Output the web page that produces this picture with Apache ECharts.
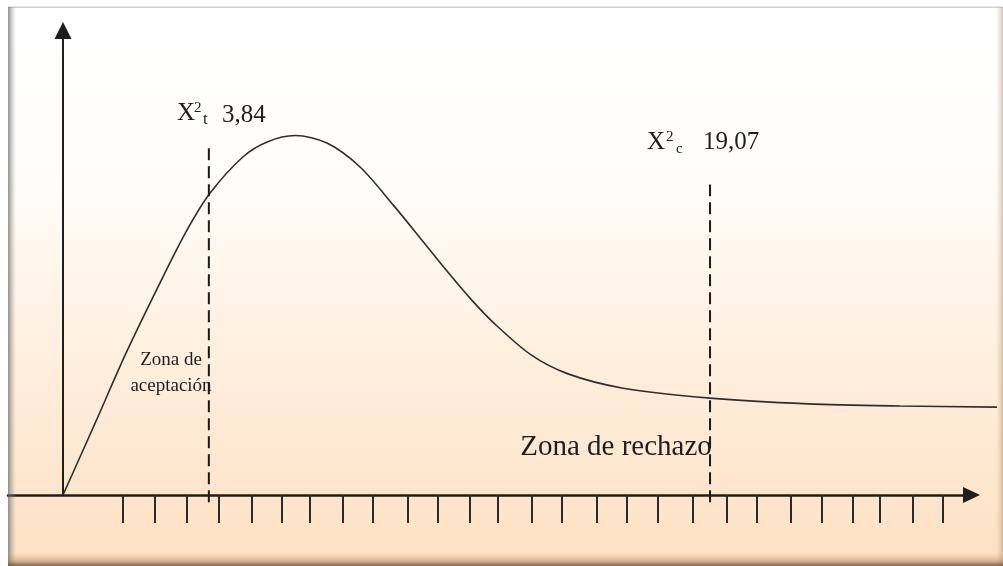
<!DOCTYPE html>
<html><head><meta charset="utf-8">
<script src="https://cdn.jsdelivr.net/npm/echarts@6/dist/echarts.min.js"></script>
<style>html,body{margin:0;padding:0;background:#fff}#c{width:1003px;height:566px}</style>
</head><body><div id="c"></div>
<script>
// ---- data (x in tick units, y in arbitrary density units) ----
const curveX = [0, 1.02, 2.0, 3.17, 3.94, 4.67, 5.71, 6.48, 7.37, 8.38, 9.43, 10.48, 11.37, 12.13, 12.92, 13.68, 14.86, 16.03, 17.78, 20.54, 23.65, 26.57, 29.65];
const curveY = [0, 2.01, 3.97, 6.10, 7.42, 8.45, 9.46, 9.88, 10.06, 9.85, 9.18, 8.12, 7.16, 6.33, 5.51, 4.81, 3.92, 3.39, 2.99, 2.71, 2.55, 2.49, 2.46];
const tickPositions = [1.90, 2.92, 3.94, 4.95, 6.00, 6.95, 7.84, 8.89, 9.84, 10.95, 11.90, 12.92, 13.81, 14.89, 15.84, 16.95, 17.90, 18.89, 20.00, 21.08, 22.03, 23.11, 24.10, 25.08, 25.94, 26.98, 27.94];
const criticalX = [4.63, 20.54];
const criticalTop = [9.87, 8.69];
const criticalBottom = -0.2;
const criticalValueLabels = ['3,84', '19,07'];
const criticalSubscripts = ['t', 'c'];
const zoneLabels = ['Zona de', 'aceptación', 'Zona de rechazo'];

const chart = echarts.init(document.getElementById('c'), null, {renderer: 'canvas'});
const serif = '"Liberation Serif", "DejaVu Serif", serif';
const ink = '#1e1e1e';
function txt(x, y, text, size, align) {
  return {type: 'text', z: 50, style: {x: x, y: y, text: text, font: size + 'px ' + serif, fill: ink, textAlign: align || 'left', textVerticalAlign: 'middle'}};
}
const LG = echarts.graphic.LinearGradient;

const series = [{
  type: 'line',
  xAxisIndex: 1, yAxisIndex: 1,
  data: curveX.map((x, i) => [x, curveY[i]]),
  smooth: 0.3,
  showSymbol: false,
  clip: false,
  lineStyle: {color: '#2e2e2e', width: 1.6},
  z: 5,
  silent: true
}];
criticalX.forEach((x, i) => {
  series.push({
    type: 'line',
    data: [[x, criticalBottom], [x, criticalTop[i]]],
    showSymbol: false,
    clip: false,
    lineStyle: {color: '#1a1a1a', width: 2, type: [12, 6]},
    z: 6,
    silent: true
  });
});

const hiddenAxis = {show: false, axisLine: {show: false}, axisTick: {show: false}, axisLabel: {show: false}, splitLine: {show: false}};

chart.setOption({
  animation: false,
  backgroundColor: '#ffffff',
  grid: [
    {left: 8, right: 31.5, top: 30.5, bottom: 71, containLabel: false},
    {left: 8, right: 6, top: 30.5, bottom: 71, containLabel: false}
  ],
  xAxis: [{
    type: 'value', min: -1.746, max: 28.84, gridIndex: 0,
    axisLine: {show: true, onZero: true, symbol: ['none', 'triangle'], symbolSize: [16, 17], lineStyle: {color: '#1e1e1e', width: 2.5}},
    axisTick: {show: true, customValues: tickPositions, length: 28, lineStyle: {color: '#2a2a2a', width: 2}},
    axisLabel: {show: false},
    splitLine: {show: false}
  }, Object.assign({type: 'value', min: -1.746, max: 29.65, gridIndex: 1}, hiddenAxis)],
  yAxis: [{
    type: 'value', min: 0, max: 13, gridIndex: 0,
    axisLine: {show: true, onZero: true, symbol: ['none', 'triangle'], symbolSize: [17, 17], lineStyle: {color: '#1e1e1e', width: 2}},
    axisTick: {show: false},
    axisLabel: {show: false},
    splitLine: {show: false}
  }, Object.assign({type: 'value', min: 0, max: 13, gridIndex: 1}, hiddenAxis)],
  graphic: [
    {type: 'rect', z: -100, silent: true, shape: {x: 8, y: 7, width: 995, height: 559},
      style: {fill: new LG(0, 0, 0, 1, [
        {offset: 0, color: '#ffffff'}, {offset: 0.28, color: '#fffefc'},
        {offset: 0.6, color: '#fff0e0'}, {offset: 1, color: '#fde0c2'}])}},
    {type: 'rect', z: 100, silent: true, shape: {x: 8, y: 6.5, width: 995, height: 1.5}, style: {fill: '#d0d0d0'}},
    {type: 'rect', z: 100, silent: true, shape: {x: 8, y: 7, width: 8, height: 559},
      style: {fill: new LG(0, 0, 1, 0, [{offset: 0, color: 'rgba(100,100,100,0.7)'}, {offset: 1, color: 'rgba(160,160,160,0)'}])}},
    {type: 'rect', z: 100, silent: true, shape: {x: 996, y: 7, width: 7, height: 559},
      style: {fill: new LG(0, 0, 1, 0, [{offset: 0, color: 'rgba(220,190,160,0)'}, {offset: 1, color: 'rgba(190,160,130,0.6)'}])}},
    {type: 'rect', z: 100, silent: true, shape: {x: 8, y: 553, width: 995, height: 13},
      style: {fill: new LG(0, 0, 0, 1, [{offset: 0, color: 'rgba(170,130,90,0)'}, {offset: 0.5, color: 'rgba(170,130,90,0.35)'}, {offset: 1, color: 'rgba(105,78,55,0.85)'}])}},
    txt(177, 113, 'X', 25),
    txt(194, 108, '2', 15),
    txt(203, 120, criticalSubscripts[0], 17),
    txt(222, 115, criticalValueLabels[0], 25),
    txt(647, 142, 'X', 25),
    txt(666, 137, '2', 15),
    txt(676, 149, criticalSubscripts[1], 15),
    txt(703, 142, criticalValueLabels[1], 25),
    txt(171, 360, zoneLabels[0], 19, 'center'),
    txt(171, 386, zoneLabels[1], 19, 'center'),
    txt(616, 447, zoneLabels[2], 29, 'center')
  ],
  series: series
});
</script></body></html>
